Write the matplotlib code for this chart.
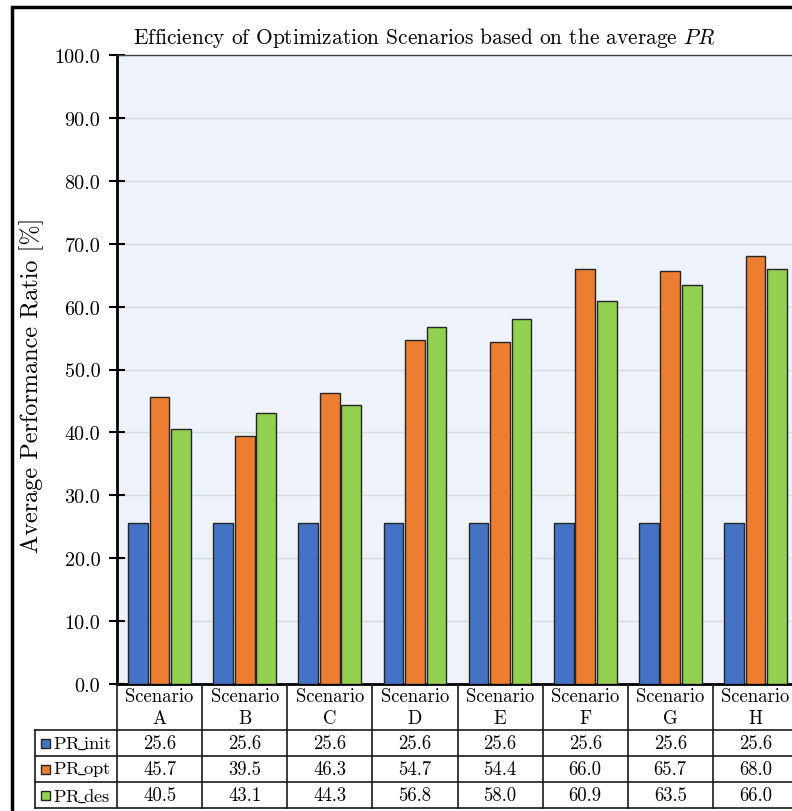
import numpy as np
import matplotlib
matplotlib.use('Agg')
import matplotlib.pyplot as plt
from matplotlib.patches import Rectangle
from matplotlib.ticker import FormatStrFormatter

plt.rcParams['font.family'] = 'cmr10'
plt.rcParams['mathtext.fontset'] = 'cm'
plt.rcParams['axes.formatter.use_mathtext'] = True

scenarios = ['A', 'B', 'C', 'D', 'E', 'F', 'G', 'H']
series = ['PR_init', 'PR_opt', 'PR_des']
pr_init = [25.6, 25.6, 25.6, 25.6, 25.6, 25.6, 25.6, 25.6]
pr_opt = [45.7, 39.5, 46.3, 54.7, 54.4, 66.0, 65.7, 68.0]
pr_des = [40.5, 43.1, 44.3, 56.8, 58.0, 60.9, 63.5, 66.0]
colors = ['#4472C4', '#ED7D31', '#92D050']

W, H = 792, 812
fig = plt.figure(figsize=(W / 100, H / 100), dpi=100)

# plot area (right edge runs past the picture, as in the reference crop)
px_left, px_right, px_top, px_bot = 117, 798, 56, 685
ax = fig.add_axes([px_left / W, 1 - px_bot / H, (px_right - px_left) / W, (px_bot - px_top) / H])
ax.set_facecolor('#EEF2FA')

x = np.arange(len(scenarios))
bw = 0.232
step = 0.253
for i, (vals, c) in enumerate(zip([pr_init, pr_opt, pr_des], colors)):
    ax.bar(x + (i - 1) * step, vals, width=bw, color=c, edgecolor='#262626', linewidth=1.0, zorder=3)

ax.set_xlim(-0.5, len(scenarios) - 0.5)
ax.set_ylim(0, 100)
ax.set_yticks(np.arange(0, 101, 10))
ax.yaxis.set_major_formatter(FormatStrFormatter('%.1f'))
ax.grid(axis='y', color='#D9D9D9', linewidth=1.0, zorder=0)
ax.set_xticks([])
ax.tick_params(axis='y', direction='inout', length=12, width=1.5, labelsize=14.5, pad=6)
ax.spines['left'].set_linewidth(2)
ax.spines['bottom'].set_linewidth(2)
ax.spines['top'].set_linewidth(1)
ax.spines['top'].set_color('#404040')
ax.spines['right'].set_visible(False)

fig.text(32 / W, 1 - 385 / H, 'Average Performance Ratio [%]', rotation=90,
         ha='center', va='center', fontsize=17.5)
fig.text(133 / W, 1 - 38 / H, 'Efficiency of Optimization Scenarios based on the average $PR$',
         ha='left', va='center', fontsize=15.4)

# data table under the plot, columns share the category scale
cat_px = (px_right - px_left) / len(scenarios)
leg_w = (px_left - 35) / cat_px
tax = fig.add_axes([35 / W, 0, (px_right - 35) / W, (H - px_bot) / H])
tax.set_xlim(-0.5 - leg_w, len(scenarios) - 0.5)
tax.set_ylim(H - px_bot, 0)
tax.axis('off')

head_h, row_h = 46, 26
row_edges = [head_h + k * row_h for k in range(len(series) + 1)]
lc = '#1a1a1a'
for k in range(len(scenarios) + 1):
    tax.plot([k - 0.5, k - 0.5], [0, row_edges[-1]], color=lc, lw=1.2, clip_on=False)
tax.plot([-0.5 - leg_w, -0.5 - leg_w], [row_edges[0], row_edges[-1]], color=lc, lw=1.2, clip_on=False)
for y in row_edges:
    tax.plot([-0.5 - leg_w, len(scenarios) - 0.5], [y, y], color=lc, lw=1.2, clip_on=False)

for k, s in enumerate(scenarios):
    tax.text(k, head_h / 2, 'Scenario\n' + s, ha='center', va='center', fontsize=13.5, linespacing=1.25)

for r, (name, vals, c) in enumerate(zip(series, [pr_init, pr_opt, pr_des], colors)):
    yc = row_edges[r] + row_h / 2
    for k, v in enumerate(vals):
        tax.text(k, yc, f'{v:.1f}', ha='center', va='center', fontsize=13.5)
    kx = -0.5 - leg_w + 0.065
    tax.add_patch(Rectangle((kx, yc - 4.5), 0.11, 9, facecolor=c, edgecolor='#262626', lw=1, clip_on=False))
    # cmr10 has no plain underscore, so take it from mathtext
    tax.text(kx + 0.15, yc, name.replace('_', r'$\!\_\!$'), ha='left', va='center', fontsize=13.3)

# outer chart frame
fig.patches.append(Rectangle((12 / W, -0.05), 1.2, 1 - 8 / H + 0.05, transform=fig.transFigure,
                             fill=False, edgecolor='black', linewidth=2.5))

fig.savefig('out.png', dpi=100)
